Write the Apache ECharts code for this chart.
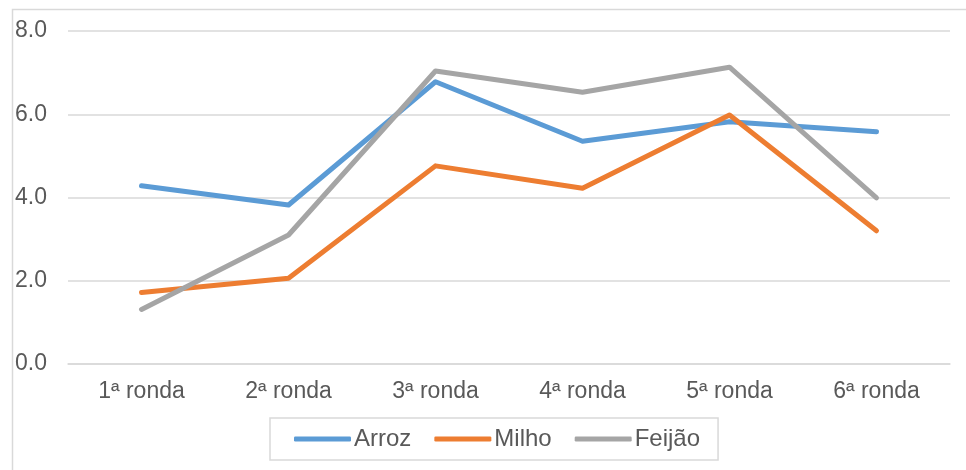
<!DOCTYPE html>
<html>
<head>
<meta charset="utf-8">
<script src="https://cdn.jsdelivr.net/npm/echarts@6/dist/echarts.min.js"></script>
<style>
html,body{margin:0;padding:0;background:#fff;}
#chart{width:966px;height:470px;}
</style>
</head>
<body>
<div id="chart"></div>
<script>
const categories = ['1ª ronda', '2ª ronda', '3ª ronda', '4ª ronda', '5ª ronda', '6ª ronda'];
const arroz  = [4.28, 3.82, 6.78, 5.35, 5.82, 5.58];
const milho  = [1.72, 2.06, 4.76, 4.22, 5.98, 3.20];
const feijao = [1.31, 3.10, 7.04, 6.53, 7.13, 3.99];
const yTicks = [0, 2, 4, 6, 8];

const chart = echarts.init(document.getElementById('chart'), null, {renderer: 'canvas'});
const font = 'Liberation Sans, Arial, sans-serif';
const lineStyle = (c) => ({color: c, width: 5, cap: 'round', join: 'round'});
chart.setOption({
  animation: false,
  backgroundColor: '#fff',
  graphic: [{
    type: 'rect', left: 10, top: 7,
    shape: {width: 970, height: 480},
    style: {fill: 'none', stroke: '#d9d9d9', lineWidth: 1.5},
    silent: true
  }],
  grid: {left: 68, right: 16, top: 31, bottom: 106},
  xAxis: {
    type: 'category', data: categories, boundaryGap: true,
    axisLine: {show: true, lineStyle: {color: '#d9d9d9', width: 1.5}},
    axisTick: {show: false},
    axisLabel: {color: '#595959', fontSize: 23, fontFamily: font, margin: 16}
  },
  yAxis: {
    type: 'value', min: yTicks[0], max: yTicks[yTicks.length - 1], interval: 2,
    axisLine: {show: false}, axisTick: {show: false},
    splitLine: {lineStyle: {color: '#d9d9d9', width: 1.5}},
    axisLabel: {color: '#595959', fontSize: 23, fontFamily: font, margin: 21,
      formatter: v => v.toFixed(1)}
  },
  legend: {
    data: ['Arroz', 'Milho', 'Feijão'],
    left: 270, top: 418,
    padding: [9, 18, 9, 24],
    borderColor: '#d9d9d9', borderWidth: 1.5,
    itemWidth: 57, itemHeight: 5, itemGap: 23,
    icon: 'roundRect',
    textStyle: {color: '#595959', fontSize: 24, fontFamily: font, padding: [0, 0, 0, -2]}
  },
  series: [
    {name: 'Arroz', type: 'line', data: arroz, showSymbol: false, symbol: 'none', lineStyle: lineStyle('#5B9BD5'), itemStyle: {color: '#5B9BD5'}},
    {name: 'Milho', type: 'line', data: milho, showSymbol: false, symbol: 'none', lineStyle: lineStyle('#ED7D31'), itemStyle: {color: '#ED7D31'}},
    {name: 'Feijão', type: 'line', data: feijao, showSymbol: false, symbol: 'none', lineStyle: lineStyle('#A5A5A5'), itemStyle: {color: '#A5A5A5'}}
  ]
});
</script>
</body>
</html>
